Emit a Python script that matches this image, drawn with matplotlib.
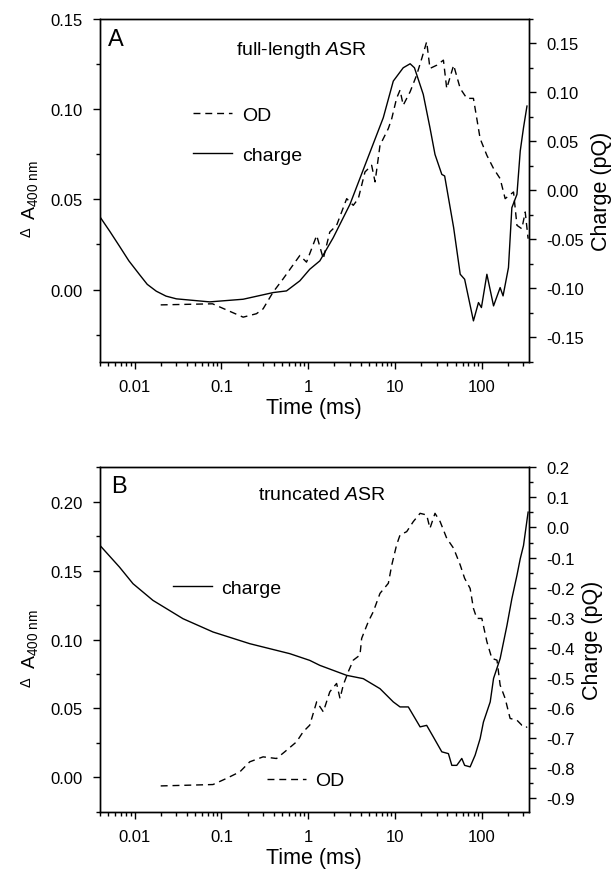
import numpy as np
import matplotlib
matplotlib.use("Agg")
import matplotlib.pyplot as plt
from matplotlib.ticker import MultipleLocator, LogLocator, NullFormatter, FixedLocator

plt.rcParams['font.family'] = ['Liberation Sans', 'DejaVu Sans']
plt.rcParams['mathtext.fontset'] = 'custom'
plt.rcParams['mathtext.rm'] = 'Liberation Sans'
plt.rcParams['mathtext.it'] = 'Liberation Sans:italic'

# --- panel A: full-length ASR ---
a_od_t = [0.02, 0.079, 0.178, 0.253, 0.302, 0.394, 0.513, 0.80, 0.955, 1.25, 1.49, 1.77,
          2.12, 2.77, 3.30, 3.77, 4.50, 5.37, 5.88, 6.70, 8.36, 9.15, 10.4, 11.4, 12.4,
          14.9, 17.7, 20.3, 23.1, 25.2, 30.2, 36.0, 39.3, 47.2, 56.2, 67.0, 79.8, 95.3,
          114, 136, 162, 185, 231, 253, 288, 315, 340]
a_od_v = [-0.0085, -0.0079, -0.0153, -0.0134, -0.0107, -0.0014, 0.0059, 0.0189, 0.0152,
          0.030, 0.0171, 0.0319, 0.0356, 0.0504, 0.0467, 0.0504, 0.0652, 0.0689, 0.0597,
          0.080, 0.0893, 0.0948, 0.106, 0.1106, 0.1022, 0.1097, 0.1189, 0.1282, 0.1374,
          0.1226, 0.1244, 0.1272, 0.1115, 0.1244, 0.1115, 0.106, 0.106, 0.0837, 0.0744,
          0.0671, 0.0615, 0.0504, 0.0541, 0.0356, 0.0337, 0.043, 0.0282]

a_q_t = [0.004, 0.0052, 0.0067, 0.0086, 0.0114, 0.0140, 0.0178, 0.0230, 0.0303, 0.0733,
         0.178, 0.394, 0.562, 0.80, 1.04, 1.36, 1.94, 3.02, 4.70, 7.31, 9.53, 12.4, 14.9,
         16.7, 21.1, 25.2, 28.8, 34.5, 37.2, 47.2, 56.2, 63.2, 79.8, 91.2, 98.6, 114, 136,
         162, 175, 202, 221, 253, 276, 301, 330]
a_q_v = [-0.0271, -0.0420, -0.0570, -0.0720, -0.0860, -0.0960, -0.1030, -0.1080, -0.1108,
         -0.1139, -0.1112, -0.1044, -0.1027, -0.0924, -0.0806, -0.0720, -0.0483, -0.0143,
         0.030, 0.0742, 0.1116, 0.1252, 0.1293, 0.1252, 0.098, 0.064, 0.0367, 0.0163,
         0.0147, -0.038, -0.0857, -0.0908, -0.1333, -0.1146, -0.1197, -0.0857, -0.118,
         -0.0993, -0.1078, -0.0789, -0.0177, -0.0041, 0.0402, 0.064, 0.0861]

# --- panel B: truncated ASR ---
b_od_t = [0.02, 0.080, 0.114, 0.163, 0.212, 0.302, 0.431, 0.537, 0.733, 0.874, 1.04,
          1.25, 1.49, 1.77, 2.12, 2.32, 2.53, 2.89, 3.30, 3.94, 4.12, 4.91, 5.61, 6.70,
          8.36, 9.15, 10.4, 11.4, 13.6, 16.2, 19.4, 23.1, 25.2, 28.8, 33.0, 39.3, 47.2,
          56.2, 63.2, 73.1, 79.8, 87.3, 99.7, 114, 130, 149, 162, 185, 211, 253, 288,
          315, 330]
b_od_v = [-0.0063, -0.0053, -0.0009, 0.0039, 0.0112, 0.0148, 0.0136, 0.0185, 0.0257,
          0.033, 0.0378, 0.0548, 0.0475, 0.062, 0.0681, 0.0572, 0.0669, 0.0766, 0.085,
          0.0887, 0.1008, 0.1129, 0.1202, 0.1335, 0.1408, 0.154, 0.1686, 0.1759, 0.1783,
          0.1856, 0.1916, 0.1904, 0.1807, 0.1916, 0.1856, 0.1735, 0.1662, 0.1541,
          0.1444, 0.1371, 0.1226, 0.1153, 0.1153, 0.0984, 0.0863, 0.085, 0.0669,
          0.0572, 0.0427, 0.0414, 0.0378, 0.0378, 0.036]

b_q_t = [0.004, 0.0067, 0.0096, 0.0163, 0.0361, 0.080, 0.212, 0.613, 1.04, 1.36, 2.77,
         4.30, 6.70, 9.53, 11.4, 14.2, 19.4, 23.1, 27.5, 34.5, 41.1, 45.0, 51.3, 58.6,
         63.2, 73.1, 83.5, 95.3, 104, 124.5, 136, 162, 194, 221, 253, 276, 301, 340]
b_q_v = [-0.0598, -0.1316, -0.187, -0.2425, -0.3033, -0.3475, -0.3864, -0.4196, -0.4419,
         -0.4585, -0.4917, -0.5027, -0.536, -0.580, -0.5967, -0.5967, -0.663, -0.658,
         -0.696, -0.746, -0.752, -0.791, -0.791, -0.768, -0.791, -0.796, -0.757, -0.702,
         -0.647, -0.580, -0.502, -0.436, -0.326, -0.237, -0.159, -0.104, -0.060, 0.051]

XLIM = (0.004, 345)
DASH = (5, 3.5)


def style_axes(ax, ax2):
    ax.set_xscale('log')
    ax.set_xlim(*XLIM)
    ax.xaxis.set_major_locator(FixedLocator([0.01, 0.1, 1, 10, 100]))
    ax.set_xticklabels(['0.01', '0.1', '1', '10', '100'])
    ax.xaxis.set_minor_locator(LogLocator(base=10, subs=np.arange(2, 10)))
    ax.xaxis.set_minor_formatter(NullFormatter())
    for a in (ax, ax2):
        a.tick_params(which='major', direction='out', length=5, width=1, labelsize=12, pad=7.5)
        a.tick_params(which='minor', direction='out', length=3, width=1)
        for s in a.spines.values():
            s.set_linewidth(1.0)
    ax.tick_params(axis='x', which='both', top=False)
    ax.set_xlabel('Time (ms)', fontsize=15.5, labelpad=2)
    ax2.set_ylabel('Charge (pQ)', fontsize=15.5, labelpad=5)


fig = plt.figure(figsize=(6.15, 8.78), dpi=100)

# ---------------- panel A ----------------
axA = fig.add_axes([0.1626, 0.5869, 0.697, 0.3903])
axA2 = axA.twinx()
l_od, = axA.plot(a_od_t, a_od_v, color='black', lw=1.0, ls=(0, DASH), label='OD')
l_q, = axA2.plot(a_q_t, a_q_v, color='black', lw=1.0, label='charge')
axA.set_ylim(-0.04, 0.15)
axA.yaxis.set_major_locator(MultipleLocator(0.05))
axA.yaxis.set_minor_locator(MultipleLocator(0.025))
axA.yaxis.set_major_formatter(plt.FuncFormatter(lambda v, p: f'{v:.2f}'))
axA2.set_ylim(-0.175, 0.175)
axA2.yaxis.set_major_locator(MultipleLocator(0.05))
axA2.yaxis.set_minor_locator(MultipleLocator(0.025))
axA2.yaxis.set_major_formatter(plt.FuncFormatter(lambda v, p: f'{v:.2f}'.replace('-0.00', '0.00')))
style_axes(axA, axA2)
axA.text(0.019, 0.942, 'A', transform=axA.transAxes, fontsize=17, ha='left', va='center')
axA.text(0.317, 0.912, 'full-length $\\mathit{A}$SR', transform=axA.transAxes,
         fontsize=14, ha='left', va='center')
axA2.legend([l_od, l_q], ['OD', 'charge'], loc='center left', bbox_to_anchor=(0.217, 0.661),
            frameon=False, fontsize=14, handlelength=2.0, handletextpad=0.5,
            labelspacing=1.15, borderpad=0, borderaxespad=0)

# ---------------- panel B ----------------
axB = fig.add_axes([0.1626, 0.0744, 0.697, 0.3922])
axB2 = axB.twinx()
m_od, = axB.plot(b_od_t, b_od_v, color='black', lw=1.0, ls=(0, DASH), label='OD')
m_q, = axB2.plot(b_q_t, b_q_v, color='black', lw=1.0, label='charge')
axB.set_ylim(-0.025, 0.225)
axB.yaxis.set_major_locator(MultipleLocator(0.05))
axB.yaxis.set_minor_locator(MultipleLocator(0.025))
axB.yaxis.set_major_formatter(plt.FuncFormatter(lambda v, p: f'{v:.2f}'))
axB2.set_ylim(-0.945, 0.2)
axB2.yaxis.set_major_locator(MultipleLocator(0.1))
axB2.yaxis.set_minor_locator(MultipleLocator(0.05))
axB2.yaxis.set_major_formatter(plt.FuncFormatter(lambda v, p: f'{v:.1f}'.replace('-0.0', '0.0')))
style_axes(axB, axB2)
axB.text(0.027, 0.947, 'B', transform=axB.transAxes, fontsize=17, ha='left', va='center')
axB.text(0.369, 0.922, 'truncated $\\mathit{A}$SR', transform=axB.transAxes,
         fontsize=14, ha='left', va='center')
lg1 = axB2.legend([m_q], ['charge'], loc='center left', bbox_to_anchor=(0.170, 0.650),
                  frameon=False, fontsize=14, handlelength=2.0, handletextpad=0.5,
                  borderpad=0, borderaxespad=0)
axB2.add_artist(lg1)
axB2.legend([m_od], ['OD'], loc='center left', bbox_to_anchor=(0.389, 0.090),
            frameon=False, fontsize=14, handlelength=2.0, handletextpad=0.5,
            borderpad=0, borderaxespad=0)

# y labels: small delta + A_400 nm
for ax in (axA, axB):
    ax.text(-0.172, 0.380, '\u0394', transform=ax.transAxes, rotation=90,
            fontsize=10.5, ha='center', va='center')
    ax.text(-0.163, 0.505, 'A$_{\\mathregular{400\\ nm}}$', transform=ax.transAxes, rotation=90,
            fontsize=14, ha='center', va='center')

fig.savefig('out.png', dpi=100)
